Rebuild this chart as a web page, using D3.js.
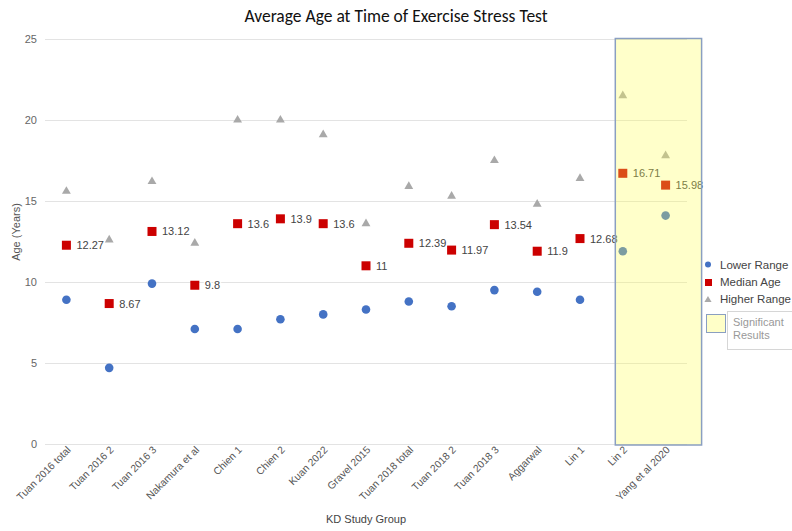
<!DOCTYPE html>
<html>
<head>
<meta charset="utf-8">
<script src="https://cdn.jsdelivr.net/npm/d3@7"></script>
<style>
  body { margin: 0; background: #fff; }
  text { font-family: Arial, "Liberation Sans", sans-serif; }
</style>
</head>
<body>
<div id="chart"></div>
<script>
// data
var groups = ["Tuan 2016 total", "Tuan 2016 2", "Tuan 2016 3", "Nakamura et al", "Chien 1", "Chien 2",
              "Kuan 2022", "Gravel 2015", "Tuan 2018 total", "Tuan 2018 2", "Tuan 2018 3", "Aggarwal",
              "Lin 1", "Lin 2", "Yang et al 2020"];
var lowerRange = [8.9, 4.7, 9.9, 7.1, 7.1, 7.7, 8.0, 8.3, 8.8, 8.5, 9.5, 9.4, 8.9, 11.9, 14.1];
var medianAge = [12.27, 8.67, 13.12, 9.8, 13.6, 13.9, 13.6, 11, 12.39, 11.97, 13.54, 11.9, 12.68, 16.71, 15.98];
var higherRange = [15.6, 12.6, 16.2, 12.4, 20.0, 20.0, 19.1, 13.6, 15.9, 15.3, 17.5, 14.8, 16.4, 21.5, 17.8];
var yTicks = [0, 5, 10, 15, 20, 25];
var significant = ["Lin 2", "Yang et al 2020"];

// svg container
var svgWidth = 792;
var svgHeight = 531;

var margin = {
    top: 39,
    right: 105,
    bottom: 87,
    left: 45
};

var chartWidth = svgWidth - margin.left - margin.right;
var chartHeight = svgHeight - margin.top - margin.bottom;

var svg = d3.select("#chart")
            .append("svg")
            .attr("width", svgWidth)
            .attr("height", svgHeight);

var chartGroup = svg.append("g").attr("transform", `translate(${margin.left}, ${margin.top})`);

var xScale = d3.scalePoint()
               .domain(groups)
               .range([0, chartWidth])
               .padding(0.5);

var yScale = d3.scaleLinear()
               .domain([0, 25])
               .range([chartHeight, 0]);

// gridlines + y labels
var yAxis = chartGroup.append("g")
    .call(d3.axisLeft(yScale).tickValues(yTicks).tickSize(-chartWidth).tickPadding(8));
yAxis.select(".domain").remove();
yAxis.selectAll("line").attr("stroke", "#e3e3e3");
yAxis.selectAll("text").attr("fill", "#666").style("font-size", "11px");

// x labels
var xAxis = chartGroup.append("g")
    .attr("transform", `translate(0, ${chartHeight})`)
    .call(d3.axisBottom(xScale).tickSize(0));
xAxis.select(".domain").remove();
xAxis.selectAll("text")
     .attr("fill", "#555")
     .style("font-size", "10.3px")
     .attr("text-anchor", "end")
     .attr("transform", "translate(2, 4) rotate(-45)")
     .attr("dy", "0.35em")
     .attr("y", 0);

var rows = groups.map((g, i) => ({ g: g, lo: lowerRange[i], med: medianAge[i], hi: higherRange[i] }));

// higher range triangles
chartGroup.selectAll(".hi")
    .data(rows)
    .enter()
    .append("path")
    .attr("d", d3.symbol().type(d3.symbolTriangle).size(34))
    .attr("transform", d => `translate(${xScale(d.g)}, ${yScale(d.hi)})`)
    .attr("fill", "#a9a9a9");

// lower range circles
chartGroup.selectAll(".lo")
    .data(rows)
    .enter()
    .append("circle")
    .attr("cx", d => xScale(d.g))
    .attr("cy", d => yScale(d.lo))
    .attr("r", 4.3)
    .attr("fill", "#4472c4");

// median squares
chartGroup.selectAll(".med")
    .data(rows)
    .enter()
    .append("rect")
    .attr("x", d => xScale(d.g) - 4.5)
    .attr("y", d => yScale(d.med) - 4.5)
    .attr("width", 9)
    .attr("height", 9)
    .attr("fill", "#cc0000");

chartGroup.selectAll(".medLabel")
    .data(rows)
    .enter()
    .append("text")
    .attr("x", d => xScale(d.g) + 10)
    .attr("y", d => yScale(d.med) + 4)
    .attr("fill", "#444")
    .attr("stroke", "#fff")
    .attr("stroke-width", 3)
    .attr("paint-order", "stroke")
    .style("font-size", "11px")
    .text(d => d.med);

// significant results highlight
chartGroup.append("rect")
    .attr("x", xScale(significant[0]) - 7.5)
    .attr("y", -0.5)
    .attr("width", xScale(significant[1]) - xScale(significant[0]) + 43.5)
    .attr("height", chartHeight + 1.5)
    .attr("fill", "#ffff4e")
    .attr("fill-opacity", 0.3)
    .attr("stroke", "#8a9fc1")
    .attr("stroke-width", 1.5);

// title
svg.append("text")
   .attr("x", 396)
   .attr("y", 22)
   .attr("text-anchor", "middle")
   .attr("fill", "#111")
   .style("font-family", "Carlito, Lato, 'Open Sans', sans-serif")
   .style("font-size", "17.5px")
   .text("Average Age at Time of Exercise Stress Test");

// axis titles
svg.append("text")
   .attr("transform", "translate(20, 232) rotate(-90)")
   .attr("text-anchor", "middle")
   .attr("fill", "#555")
   .style("font-size", "11px")
   .text("Age (Years)");

svg.append("text")
   .attr("x", 366)
   .attr("y", 523)
   .attr("text-anchor", "middle")
   .attr("fill", "#444")
   .style("font-size", "11px")
   .text("KD Study Group");

// legend
var legend = svg.append("g");
legend.append("circle").attr("cx", 708).attr("cy", 264.5).attr("r", 3).attr("fill", "#4472c4");
legend.append("rect").attr("x", 705).attr("y", 279).attr("width", 7).attr("height", 7).attr("fill", "#cc0000");
legend.append("path")
      .attr("d", d3.symbol().type(d3.symbolTriangle).size(22))
      .attr("transform", "translate(708, 300)")
      .attr("fill", "#a9a9a9");
var legendNames = ["Lower Range", "Median Age", "Higher Range"];
legend.selectAll(".lt")
      .data(legendNames)
      .enter()
      .append("text")
      .attr("x", 720)
      .attr("y", (d, i) => 268.5 + i * 17.3)
      .attr("fill", "#444")
      .style("font-size", "11.5px")
      .text(d => d);

legend.append("rect")
      .attr("x", 706.5).attr("y", 314.5).attr("width", 19).attr("height", 18)
      .attr("fill", "#ffffc8").attr("stroke", "#8a9fc1").attr("stroke-width", 1);
legend.append("rect")
      .attr("x", 727.5).attr("y", 311.5).attr("width", 70).attr("height", 38)
      .attr("fill", "#fff").attr("stroke", "#d6d6d6").attr("stroke-width", 1);
legend.append("text").attr("x", 733).attr("y", 326).attr("fill", "#999").style("font-size", "11px").text("Significant");
legend.append("text").attr("x", 733).attr("y", 339).attr("fill", "#999").style("font-size", "11px").text("Results");
</script>
</body>
</html>
